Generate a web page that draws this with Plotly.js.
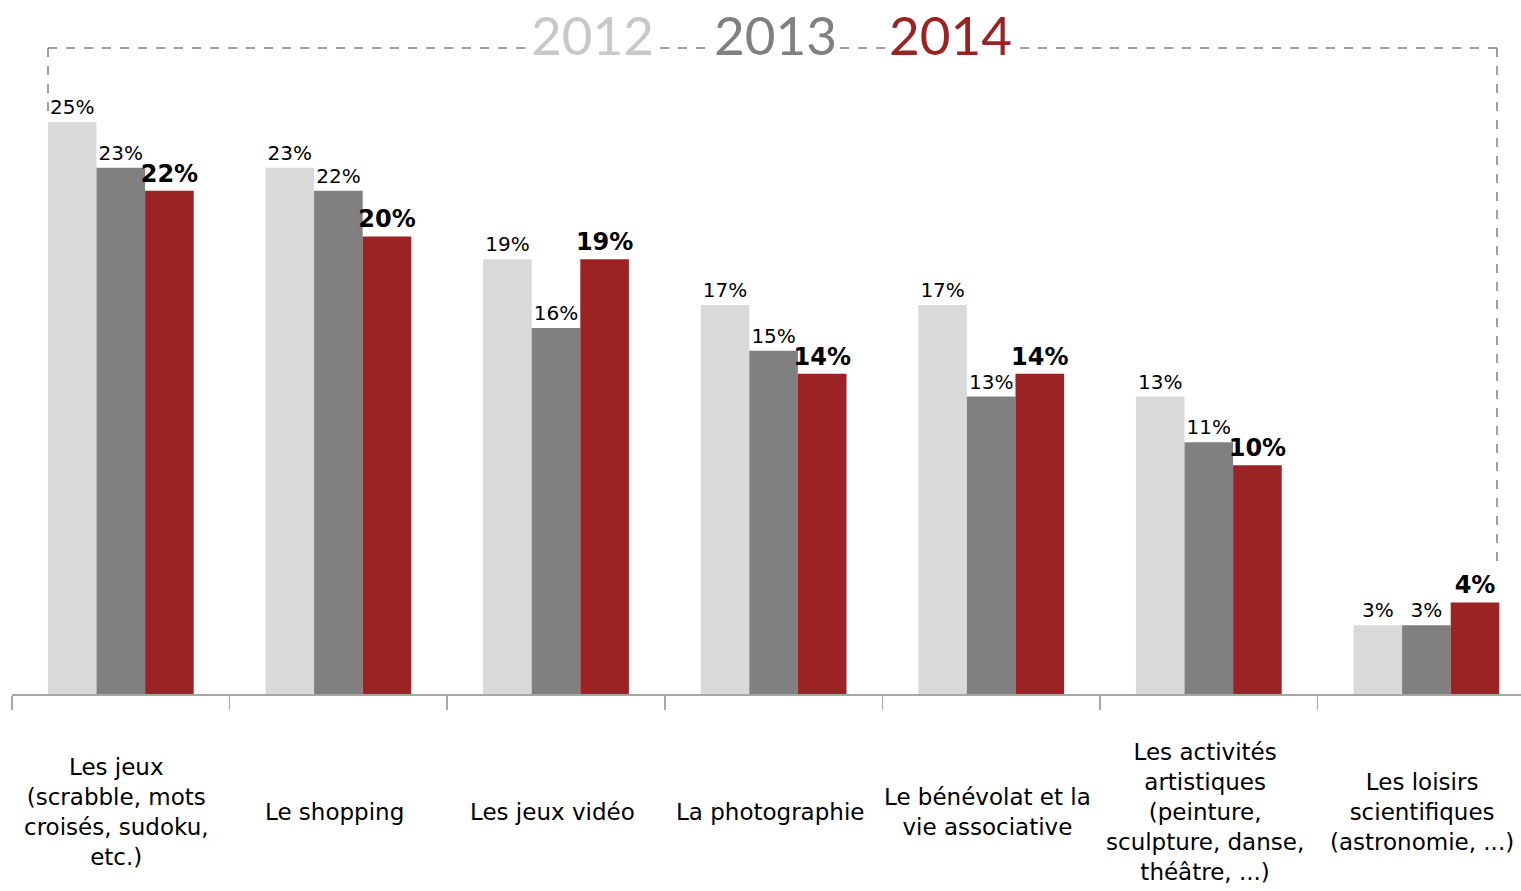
<!DOCTYPE html>
<html>
<head>
<meta charset="utf-8">
<script src="https://cdn.plot.ly/plotly-3.0.1.min.js"></script>
<style>html,body{margin:0;padding:0;background:#fff;}#chart{width:1521px;height:891px;}</style>
</head>
<body>
<div id="chart"></div>
<script>
const categories = [
  "Les jeux<br>(scrabble, mots<br>croisés, sudoku,<br>etc.)",
  "Le shopping",
  "Les jeux vidéo",
  "La photographie",
  "Le bénévolat et la<br>vie associative",
  "Les activités<br>artistiques<br>(peinture,<br>sculpture, danse,<br>théâtre, ...)",
  "Les loisirs<br>scientifiques<br>(astronomie, ...)"
];
const catKeys = ["jeux","shopping","video","photo","benevolat","artistiques","scientifiques"];
const years = ["2012", "2013", "2014"];
const v2012 = [25, 23, 19, 17, 17, 13, 3];
const v2013 = [23, 22, 16, 15, 13, 11, 3];
const v2014 = [22, 20, 19, 14, 14, 10, 4];

const colors = ["#d9d9d9", "#808080", "#9b2323"];
const legendColors = ["#c8c8c8", "#808080", "#9b2323"];
const series = [v2012, v2013, v2014];

const W = 1521, H = 891;
const mL = 12, mR = 0, mT = 40, mB = 197;
const plotH = H - mT - mB;
const pxToPaperY = p => (H - mB - p) / plotH;
const pxToPaperX = p => (p - mL) / (W - mL - mR);

const traces = series.map((vals, i) => ({
  type: "bar",
  name: years[i],
  x: catKeys,
  y: vals,
  marker: {color: colors[i], line: {width: 0}},
  text: vals.map(v => v + "%"),
  textposition: "outside",
  cliponaxis: false,
  constraintext: "none",
  textfont: i === 2
    ? {family: "DejaVu Sans", size: 24, color: "#000", weight: "bold"}
    : {family: "DejaVu Sans", size: 20, color: "#000"},
  hoverinfo: "skip"
}));

const annotations = catKeys.map((k, i) => ({
  x: k, xref: "x",
  y: pxToPaperY(812), yref: "paper",
  xshift: -4,
  text: categories[i],
  showarrow: false,
  xanchor: "center", yanchor: "middle",
  align: "center",
  font: {family: "DejaVu Sans", size: 23, color: "#000"}
}));

const legendX = [592, 775, 951];
years.forEach((y, i) => {
  annotations.push({
    x: pxToPaperX(legendX[i]), xref: "paper",
    y: pxToPaperY(34), yref: "paper",
    text: y, showarrow: false,
    xanchor: "center", yanchor: "middle",
    bgcolor: "#ffffff", borderpad: 2,
    font: {family: "Lato", size: 53, color: legendColors[i], weight: 400}
  });
});

const dash = {color: "#808080", width: 1.5, dash: "dash"};
const shapes = [
  {type: "line", xref: "paper", yref: "paper", x0: pxToPaperX(48), x1: pxToPaperX(1497), y0: pxToPaperY(48), y1: pxToPaperY(48), line: dash},
  {type: "line", xref: "paper", yref: "paper", x0: pxToPaperX(48), x1: pxToPaperX(48), y0: pxToPaperY(48), y1: pxToPaperY(120), line: dash},
  {type: "line", xref: "paper", yref: "paper", x0: pxToPaperX(1497), x1: pxToPaperX(1497), y0: pxToPaperY(48), y1: pxToPaperY(566), line: dash}
];

const layout = {
  width: W, height: H,
  margin: {l: mL, r: mR, t: mT, b: mB},
  paper_bgcolor: "#fff", plot_bgcolor: "#fff",
  barmode: "group", bargap: 0.33, bargroupgap: 0,
  showlegend: false,
  xaxis: {
    type: "category",
    range: [-0.5, -0.5 + (W - mL - mR) / 217.6],
    showticklabels: false,
    ticks: "outside", ticklen: 14, tickwidth: 1.5, tickcolor: "#a6a6a6",
    tickson: "boundaries",
    showline: true, linecolor: "#a6a6a6", linewidth: 1.5,
    showgrid: false, zeroline: false
  },
  yaxis: {
    range: [0, plotH / 22.88],
    visible: false, showgrid: false, zeroline: false
  },
  annotations: annotations,
  shapes: shapes
};

Plotly.newPlot("chart", traces, layout, {displayModeBar: false, staticPlot: true});
</script>
</body>
</html>
